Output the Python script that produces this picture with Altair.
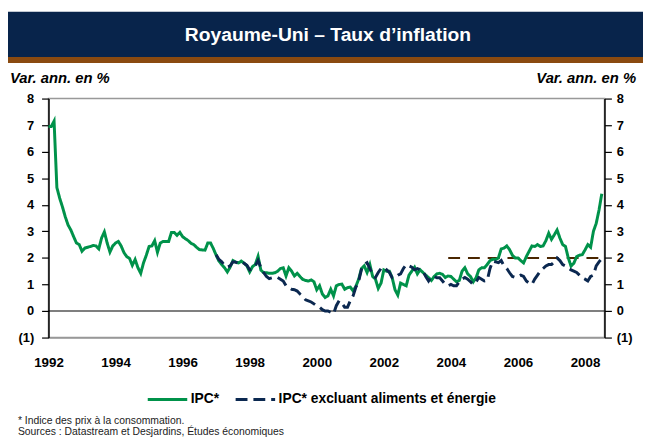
import altair as alt
import pandas as pd

# ---------------- data ----------------
series_names = ["IPC*", "IPC* excluant aliments et énergie"]

# IPC*, monthly, Jan 1992 -> Jul 2008 (annual % change)
ipc_start = 1992
ipc = [
    6.95, 6.95, 7.15, 4.65, 4.25, 3.92, 3.55, 3.24, 3.05, 2.80, 2.56, 2.50,   # 1992
    2.25, 2.37, 2.40, 2.43, 2.47, 2.45, 2.34, 2.75, 2.98, 2.56, 2.22, 2.45,   # 1993
    2.56, 2.62, 2.45, 2.20, 2.05, 1.98, 1.72, 1.94, 1.63, 1.42, 1.81, 2.10,   # 1994
    2.43, 2.45, 2.65, 2.21, 2.56, 2.62, 2.62, 2.62, 2.96, 2.96, 2.85, 2.96,   # 1995
    2.80, 2.72, 2.65, 2.55, 2.50, 2.40, 2.31, 2.30, 2.29, 2.56, 2.56, 2.35,   # 1996
    2.10, 1.88, 1.75, 1.63, 1.47, 1.65, 1.90, 1.84, 1.81, 1.88, 1.80, 1.70,   # 1997
    1.47, 1.67, 1.75, 2.06, 1.54, 1.44, 1.44, 1.42, 1.42, 1.44, 1.50, 1.60,   # 1998
    1.63, 1.32, 1.63, 1.50, 1.32, 1.42, 1.30, 1.19, 1.15, 1.13, 1.17, 1.10,   # 1999
    0.80, 0.95, 0.64, 0.51, 0.57, 0.82, 0.57, 0.95, 1.00, 1.01, 0.82, 0.88,   # 2000
    0.90, 0.76, 0.93, 1.20, 1.60, 1.70, 1.45, 1.75, 1.30, 1.20, 0.85, 1.05,   # 2001
    1.55, 1.50, 1.50, 1.25, 0.80, 0.60, 1.05, 1.00, 0.95, 1.35, 1.50, 1.65,   # 2002
    1.40, 1.55, 1.45, 1.35, 1.26, 1.15, 1.30, 1.40, 1.42, 1.38, 1.26, 1.32,   # 2003
    1.30, 1.20, 1.10, 1.15, 1.50, 1.63, 1.40, 1.30, 1.10, 1.25, 1.55, 1.63,   # 2004
    1.63, 1.75, 1.90, 1.95, 1.94, 2.00, 2.34, 2.37, 2.45, 2.31, 2.10, 2.00,   # 2005
    2.00, 1.90, 1.81, 2.05, 2.25, 2.45, 2.43, 2.50, 2.43, 2.45, 2.65, 2.93,   # 2006
    2.70, 2.87, 3.05, 2.75, 2.50, 2.43, 2.00, 1.69, 1.80, 2.05, 2.10, 2.12,   # 2007
    2.30, 2.50, 2.40, 3.00, 3.30, 3.80, 4.42,                                 # 2008
]

# IPC* excluant aliments et énergie, monthly, Jan 1997 -> Jul 2008
core_start = 1997
core = [
    2.12, 1.94, 1.85, 1.72, 1.65, 1.70, 1.85, 1.84, 1.80, 1.85, 1.80, 1.72,   # 1997
    1.55, 1.60, 1.70, 1.90, 1.63, 1.45, 1.30, 1.22, 1.25, 1.25, 1.26, 1.20,   # 1998
    1.13, 0.95, 0.88, 0.82, 0.80, 0.75, 0.64, 0.55, 0.42, 0.38, 0.34, 0.27,   # 1999
    0.19, 0.14, 0.05, 0.00, 0.00, -0.05, -0.11, 0.20, 0.39, 0.30, 0.14, 0.14, # 2000
    0.39, 0.57, 0.90, 1.13, 1.57, 1.75, 1.82, 1.60, 1.35, 1.26, 1.45, 1.60,   # 2001
    1.65, 1.55, 1.45, 1.25, 1.25, 1.35, 1.40, 1.60, 1.75, 1.70, 1.65, 1.55,   # 2002
    1.60, 1.55, 1.50, 1.30, 1.13, 1.30, 1.30, 1.25, 1.25, 1.13, 1.00, 0.95,   # 2003
    1.00, 0.95, 0.95, 1.10, 1.20, 1.26, 1.20, 1.10, 1.00, 1.10, 1.26, 1.20,   # 2004
    1.13, 1.15, 1.60, 1.88, 1.85, 1.82, 1.90, 1.70, 1.60, 1.44, 1.30, 1.26,   # 2005
    1.30, 1.35, 1.30, 1.13, 1.05, 1.00, 1.20, 1.35, 1.50, 1.60, 1.70, 1.75,   # 2006
    1.75, 1.85, 2.00, 1.90, 1.75, 1.70, 1.62, 1.55, 1.50, 1.45, 1.35, 1.25,   # 2007
    1.20, 1.13, 1.30, 1.35, 1.70, 1.85, 1.97,                                 # 2008
]

# Bank of England 2 % target
target_years = [2003.92, 2008.58]
target_values = [2.0, 2.0]

zero_values = [0]

x_domain = [1992, 2008.58]
y_domain = [-1, 8]
x_ticks = [1992, 1994, 1996, 1998, 2000, 2002, 2004, 2006, 2008]
y_ticks = [-1, 0, 1, 2, 3, 4, 5, 6, 7, 8]

title_text = "Royaume-Uni – Taux d’inflation"
unit_text = "Var. ann. en %"
note1 = "* Indice des prix à la consommation."
note2 = "Sources : Datastream et Desjardins, Études économiques"

# ---------------- style ----------------
FONT = "Liberation Sans, Arial, sans-serif"
GREEN = "#00924A"
NAVY = "#0B2850"
BROWN = "#4A2600"
BANNER = "#08244B"
STRIPE = "#8A4A10"

W, H = 563, 242

rows = []
for i, v in enumerate(ipc):
    rows.append({"t": ipc_start + i / 12.0, "v": v, "s": series_names[0]})
for i, v in enumerate(core):
    rows.append({"t": core_start + i / 12.0, "v": v, "s": series_names[1]})
df = pd.DataFrame(rows)

target_df = pd.DataFrame({"t": target_years, "v": target_values})
zero_df = pd.DataFrame({"v": zero_values})
one = alt.Data(values=[{"a": 1}])

label_expr = "datum.value < 0 ? '(' + (-datum.value) + ')' : datum.value"

xscale = alt.Scale(domain=x_domain, nice=False, zero=False)
yscale = alt.Scale(domain=y_domain, nice=False, zero=False)

leg = alt.Legend(
    title=None, orient="none", legendX=99, legendY=283, direction="horizontal",
    symbolType="stroke", symbolSize=1600, symbolStrokeWidth=3,
    labelFont=FONT, labelFontSize=14, labelFontWeight="bold", labelColor="black",
    labelOffset=2, labelLimit=0, columnPadding=10, padding=0,
)

lines = alt.Chart(df).mark_line(strokeWidth=3).encode(
    x=alt.X("t:Q", scale=xscale,
            axis=alt.Axis(values=x_ticks, format="d", ticks=False, grid=False,
                          domainColor="#999999", domainWidth=1.5,
                          labelFont=FONT, labelFontSize=13.5, labelFontWeight="bold",
                          labelColor="black", labelPadding=18, labelFlush=False,
                          title=None)),
    y=alt.Y("v:Q", scale=yscale,
            axis=alt.Axis(orient="left", values=y_ticks, labelExpr=label_expr,
                          grid=False, domainColor="black", domainWidth=1.5,
                          tickColor="black", tickSize=7, tickWidth=1.2,
                          labelFont=FONT, labelFontSize=13, labelFontWeight="bold",
                          labelColor="black", labelPadding=8, title=None)),
    color=alt.Color("s:N", scale=alt.Scale(domain=series_names, range=[GREEN, NAVY]), legend=leg),
    strokeDash=alt.StrokeDash("s:N", scale=alt.Scale(domain=series_names, range=[[1, 0], [12, 6]]), legend=leg),
)

target = alt.Chart(target_df).mark_line(color=BROWN, strokeWidth=2, strokeDash=[12, 8]).encode(
    x=alt.X("t:Q", scale=xscale),
    y=alt.Y("v:Q", scale=yscale, axis=None),
)

zero = alt.Chart(zero_df).mark_rule(color="black", strokeWidth=1.2).encode(
    y=alt.Y("v:Q", scale=yscale,
            axis=alt.Axis(orient="right", values=y_ticks, labelExpr=label_expr,
                          grid=False, domainColor="black", domainWidth=1.5,
                          tickColor="black", tickSize=7, tickWidth=1.2,
                          labelFont=FONT, labelFontSize=13, labelFontWeight="bold",
                          labelColor="black", labelPadding=5, title=None)),
)

banner = alt.Chart(one).mark_rect(color=BANNER).encode(
    x=alt.value(-41), x2=alt.value(602), y=alt.value(-88), y2=alt.value(-42))
stripe = alt.Chart(one).mark_rect(color=STRIPE).encode(
    x=alt.value(-41), x2=alt.value(602), y=alt.value(-42), y2=alt.value(-36))
title = alt.Chart(one).mark_text(
    text=title_text, font=FONT, fontSize=19.5, fontWeight="bold", color="white",
    align="center", baseline="middle").encode(x=alt.value(283), y=alt.value(-64))
unit_l = alt.Chart(one).mark_text(
    text=unit_text, font=FONT, fontSize=15, fontWeight="bold", fontStyle="italic",
    color="black", align="left", baseline="middle").encode(x=alt.value(-39), y=alt.value(-21))
unit_r = alt.Chart(one).mark_text(
    text=unit_text, font=FONT, fontSize=15, fontWeight="bold", fontStyle="italic",
    color="black", align="right", baseline="middle").encode(x=alt.value(595), y=alt.value(-21))
foot1 = alt.Chart(one).mark_text(
    text=note1, font=FONT, fontSize=10.5, color="#222222",
    align="left", baseline="middle").encode(x=alt.value(-31), y=alt.value(327))
foot2 = alt.Chart(one).mark_text(
    text=note2, font=FONT, fontSize=10.5, color="#222222",
    align="left", baseline="middle").encode(x=alt.value(-31), y=alt.value(338))

chart = alt.layer(
    banner, stripe, title, unit_l, unit_r, foot1, foot2, zero, target, lines
).resolve_axis(y="independent").properties(
    width=W, height=H,
    autosize=alt.AutoSizeParams(type="none"),
    padding={"left": 41, "top": 89, "right": 39, "bottom": 100},
    background="white",
).configure_view(stroke="#999999", strokeWidth=1.5)

chart.save("out.html", embed_options={"renderer": "svg", "actions": False})
